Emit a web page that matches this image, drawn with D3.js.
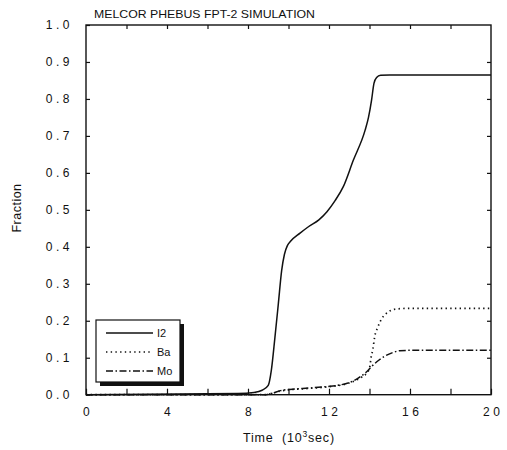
<!DOCTYPE html>
<html>
<head>
<meta charset="utf-8">
<script src="https://cdn.jsdelivr.net/npm/d3@7/dist/d3.min.js"></script>
<style>
  html, body { margin: 0; padding: 0; background: #fff; }
  svg text { font-family: "Liberation Sans", "DejaVu Sans", sans-serif; fill: #111; }
</style>
</head>
<body>
<svg id="chart" width="507" height="450"></svg>
<script>
// Release fractions versus time (10^3 s)
const i2Time  = [0, 7.5, 8.3, 8.7, 9.0, 9.15, 9.33, 9.5, 9.66, 9.8, 9.95, 10.1, 10.57, 11.0, 11.5, 11.9, 12.3, 12.7, 13.2, 13.78, 13.95, 14.1, 14.22, 14.35, 14.55, 15, 20];
const i2Value = [0, 0.003, 0.006, 0.012, 0.025, 0.065, 0.155, 0.247, 0.335, 0.38, 0.404, 0.415, 0.437, 0.455, 0.473, 0.495, 0.525, 0.562, 0.634, 0.715, 0.75, 0.796, 0.842, 0.858, 0.864, 0.865, 0.865];

const baTime  = [0, 8.8, 9.2, 9.6, 10.2, 11, 11.9, 12.9, 13.5, 13.86, 13.94, 14.02, 14.07, 14.16, 14.27, 14.39, 14.52, 14.93, 15.34, 16, 20];
const baValue = [0, 0, 0.004, 0.01, 0.014, 0.017, 0.021, 0.03, 0.044, 0.058, 0.064, 0.077, 0.098, 0.121, 0.161, 0.18, 0.197, 0.224, 0.232, 0.2335, 0.2335];

const moTime  = [0, 8.8, 9.2, 9.6, 10.2, 11, 11.9, 12.6, 12.9, 13.3, 13.53, 13.86, 14.1, 14.36, 14.6, 14.85, 15.2, 15.5, 16, 20];
const moValue = [0, 0, 0.004, 0.011, 0.015, 0.018, 0.022, 0.027, 0.031, 0.04, 0.048, 0.062, 0.076, 0.089, 0.099, 0.107, 0.115, 0.119, 0.12, 0.12];

const seriesNames = ["I2", "Ba", "Mo"];
const xTicks = [0, 2, 4, 6, 8, 10, 12, 14, 16, 18, 20];
const xLabelled = [0, 4, 8, 12, 16, 20];
const yTicks = [0, 0.1, 0.2, 0.3, 0.4, 0.5, 0.6, 0.7, 0.8, 0.9, 1.0];

const titleText = "MELCOR PHEBUS FPT-2 SIMULATION";
const xTitle = "Time  (10";
const yTitle = "Fraction";

const svg = d3.select("#chart");
const m = { left: 86, right: 491, top: 25, bottom: 394.7 };

const x = d3.scaleLinear().domain([0, 20]).range([m.left, m.right]);
const y = d3.scaleLinear().domain([0, 1]).range([m.bottom, m.top]);

// frame
svg.append("rect")
  .attr("x", m.left).attr("y", m.top)
  .attr("width", m.right - m.left).attr("height", m.bottom - m.top)
  .attr("fill", "none").attr("stroke", "#111").attr("stroke-width", 1.4);

function styleAxis(g) {
  g.select(".domain").remove();
  g.selectAll(".tick line").attr("stroke", "#111").attr("stroke-width", 1.2);
  g.selectAll(".tick text").attr("font-size", 12).attr("letter-spacing", "3.5px");
}

// bottom axis (labelled every 4)
const gx = svg.append("g").attr("transform", `translate(0,${m.bottom})`)
  .call(d3.axisBottom(x).tickValues(xTicks).tickSizeInner(-6).tickSizeOuter(0).tickPadding(13)
    .tickFormat(d => xLabelled.includes(d) ? String(d) : ""));
styleAxis(gx);
gx.selectAll(".tick text").attr("dx", "1.7px");

// top axis
const gxt = svg.append("g").attr("transform", `translate(0,${m.top})`)
  .call(d3.axisTop(x).tickValues(xTicks.slice(1, -1)).tickSizeInner(-4).tickSizeOuter(0).tickFormat(""));
styleAxis(gxt);

// left axis
const gy = svg.append("g").attr("transform", `translate(${m.left},0)`)
  .call(d3.axisLeft(y).tickValues(yTicks).tickSizeInner(-4).tickSizeOuter(0).tickPadding(16)
    .tickFormat(d3.format(".1f")));
styleAxis(gy);
gy.selectAll(".tick text").attr("dx", "3px");

// right axis
const gyr = svg.append("g").attr("transform", `translate(${m.right},0)`)
  .call(d3.axisRight(y).tickValues(yTicks.slice(1, -1)).tickSizeInner(-4).tickSizeOuter(0).tickFormat(""));
styleAxis(gyr);

// curves
const line = d3.line().x(d => x(d[0])).y(d => y(d[1])).curve(d3.curveMonotoneX);
const series = [
  { name: seriesNames[0], pts: d3.zip(i2Time, i2Value), dash: null, width: 1.5 },
  { name: seriesNames[1], pts: d3.zip(baTime, baValue), dash: "1.4,3.3", width: 1.7 },
  { name: seriesNames[2], pts: d3.zip(moTime, moValue), dash: "7,2.5,1.5,2.5", width: 1.5 }
];
series.forEach(s => {
  svg.append("path").attr("d", line(s.pts))
    .attr("fill", "none").attr("stroke", "#111").attr("stroke-width", s.width)
    .attr("stroke-dasharray", s.dash);
});

// title
svg.append("text").attr("x", 94).attr("y", 18).attr("font-size", 11.5)
  .attr("textLength", 221).attr("lengthAdjust", "spacingAndGlyphs").text(titleText);

// axis titles
const xt = svg.append("text").attr("x", 243).attr("y", 442).attr("font-size", 12.5)
  .attr("letter-spacing", "0.8px").attr("xml:space", "preserve").style("white-space", "pre");
xt.append("tspan").text(xTitle);
xt.append("tspan").attr("dy", -5).attr("font-size", 8.5).text("3");
xt.append("tspan").attr("dy", 5).text("sec)");

svg.append("text").attr("transform", "translate(21,208) rotate(-90)")
  .attr("text-anchor", "middle").attr("font-size", 12.5).attr("letter-spacing", "0.5px").text(yTitle);

// legend
const lg = { x: 96, y: 320, w: 84, h: 62 };
svg.append("rect").attr("x", lg.x + 4).attr("y", lg.y + 4).attr("width", lg.w).attr("height", lg.h).attr("fill", "#111");
svg.append("rect").attr("x", lg.x).attr("y", lg.y).attr("width", lg.w).attr("height", lg.h)
  .attr("fill", "#fff").attr("stroke", "#111").attr("stroke-width", 1.2);
series.forEach((s, i) => {
  const yy = lg.y + 13 + i * 19;
  svg.append("line").attr("x1", lg.x + 10).attr("x2", lg.x + 57).attr("y1", yy).attr("y2", yy)
    .attr("stroke", "#111").attr("stroke-width", s.width).attr("stroke-dasharray", s.dash);
  svg.append("text").attr("x", lg.x + 61).attr("y", yy + 4).attr("font-size", 11).text(s.name);
});
</script>
</body>
</html>
